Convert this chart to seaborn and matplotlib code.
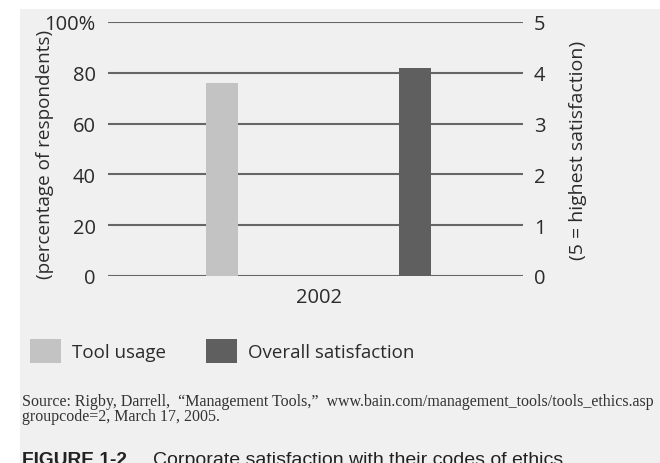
import pandas as pd
import matplotlib.pyplot as plt
import seaborn as sns
from matplotlib.patches import Patch, Rectangle

# ── Data ────────────────────────────────────────────────────────────────────
series = ["Tool usage", "Overall satisfaction"]
usage_pct = [76]          # percentage of respondents
satisfaction = [4.1]      # 5 = highest satisfaction
year_label = "2002"
left_ticks = [0, 20, 40, 60, 80, 100]
left_labels = ["0", "20", "40", "60", "80", "100%"]
right_ticks = [0, 1, 2, 3, 4, 5]
colors = {"Tool usage": "#c3c3c3", "Overall satisfaction": "#5f5f5f"}

source_text = (
    "Source: Rigby, Darrell,  \u201cManagement Tools,\u201d  "
    "www.bain.com/management_tools/tools_ethics.asp\n"
    "groupcode=2, March 17, 2005."
)

sns.set_theme(style="white")
plt.rcParams["font.family"] = ["Open Sans", "DejaVu Sans"]

BG = "#f0f0f0"
GRID = "#666666"
TXT = "#2b2b2b"
W, H = 660, 464

fig = plt.figure(figsize=(6.6, 4.64), dpi=100, facecolor="white")
fig.patches.append(
    Rectangle((20 / W, 0), 1, 1 - 10 / H, transform=fig.transFigure,
              facecolor=BG, edgecolor="none", zorder=-10)
)

ax = fig.add_axes([108 / W, 1 - 277 / H, (523 - 108) / W, (277 - 23) / H])
ax2 = ax.twinx()

df_use = pd.DataFrame({"series": [series[0]], "value": usage_pct})
df_sat = pd.DataFrame({"series": [series[1]], "value": satisfaction})

sns.barplot(data=df_use, x="series", y="value", order=series, ax=ax,
            color=colors[series[0]], width=0.166, saturation=1,
            linewidth=0, zorder=3)
sns.barplot(data=df_sat, x="series", y="value", order=series, ax=ax2,
            color=colors[series[1]], width=0.166, saturation=1,
            linewidth=0, zorder=3)

for a in (ax, ax2):
    a.set_facecolor("none")
    for s in a.spines.values():
        s.set_visible(False)
    a.set_xlim(-0.591, 1.559)

ax.set_ylim(0, 100)
ax2.set_ylim(0, 5)
ax.set_yticks(left_ticks, left_labels)
ax2.set_yticks(right_ticks, [str(t) for t in right_ticks])
ax.set_xticks([0.5], [year_label])

# horizontal gridlines drawn behind the bars
for t in left_ticks:
    ax.axhline(t, color=GRID, lw=1.5, zorder=1)

ax.tick_params(axis="y", length=0, pad=9, labelsize=14.5, labelcolor=TXT)
ax2.tick_params(axis="y", length=0, pad=8, labelsize=14.5, labelcolor=TXT)
ax.tick_params(axis="x", length=0, pad=8, labelsize=14.5, labelcolor=TXT)

ax.set_xlabel("")
ax.set_ylabel("(percentage of respondents)", fontsize=13.6, color=TXT)
ax2.set_ylabel("(5 = highest satisfaction)", fontsize=14, color=TXT)
ax.yaxis.set_label_coords(-(108 - 54) / (523 - 108), 0.484)
ax2.yaxis.set_label_coords(1 + (569 - 523) / (523 - 108), 0.5)

# ── Legend ─────────────────────────────────────────────────────────────────
handles = [Patch(facecolor=colors[s], edgecolor="none", label=s) for s in series]
fig.legend(handles=handles, loc="center left", bbox_to_anchor=(30 / W, 1 - 352 / H),
           ncol=2, frameon=False, fontsize=13.5, handlelength=1.65,
           handleheight=1.6, handletextpad=0.59, columnspacing=2.15,
           borderpad=0, borderaxespad=0, labelcolor=TXT)

# ── Source + caption ──────────────────────────────────────────────────────
fig.text(22 / W, 1 - 421 / H, source_text, family=["Liberation Serif"],
         fontsize=11.5, color="#333333", va="baseline", ha="left",
         linespacing=0.93)
fig.text(22 / W, 1 - 465 / H, "FIGURE 1-2", family=["Liberation Sans"],
         fontweight="bold", fontsize=13.8, color="#222222",
         va="baseline", ha="left")
fig.text(153 / W, 1 - 465 / H, "Corporate satisfaction with their codes of ethics",
         family=["Liberation Sans"], fontsize=14, color="#222222",
         va="baseline", ha="left")

fig.savefig("out.png", dpi=100, facecolor=fig.get_facecolor())
